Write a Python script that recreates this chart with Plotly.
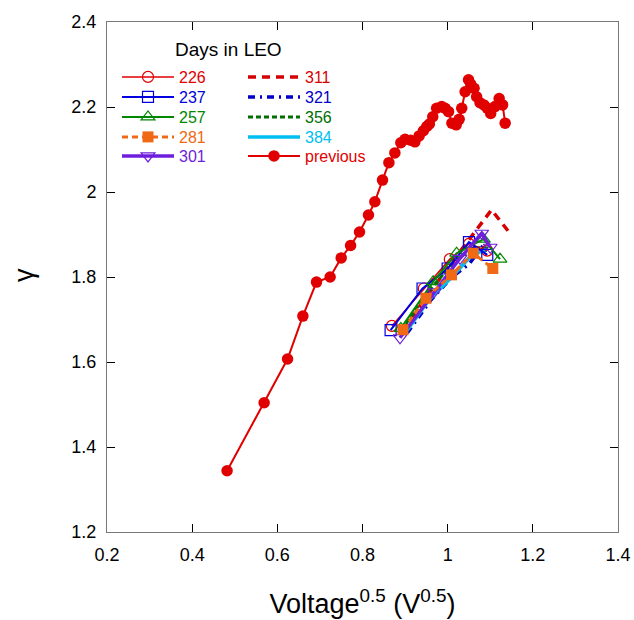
import plotly.graph_objects as go

# ---- data ----
prev_x = [0.482, 0.569, 0.624, 0.660, 0.692, 0.724, 0.750, 0.772, 0.793, 0.814, 0.829,
          0.847, 0.862, 0.876, 0.890, 0.900, 0.913, 0.923, 0.933, 0.943, 0.951, 0.957,
          0.965, 0.974, 0.986, 0.994, 1.002, 1.010, 1.020, 1.027, 1.033, 1.041, 1.049,
          1.054, 1.062, 1.068, 1.076, 1.085, 1.093, 1.101, 1.111, 1.121, 1.129, 1.135]
prev_y = [1.344, 1.504, 1.607, 1.708, 1.788, 1.800, 1.845, 1.874, 1.906, 1.946, 1.977,
          2.028, 2.069, 2.092, 2.116, 2.124, 2.122, 2.118, 2.132, 2.144, 2.154, 2.160,
          2.177, 2.197, 2.201, 2.197, 2.189, 2.162, 2.158, 2.171, 2.197, 2.236, 2.264,
          2.254, 2.244, 2.224, 2.210, 2.205, 2.197, 2.185, 2.201, 2.220, 2.205, 2.162]

d226_x = [0.869, 0.944, 1.005, 1.050, 1.093]
d226_y = [1.685, 1.773, 1.842, 1.878, 1.862]
d237_x = [0.866, 0.941, 1.000, 1.050, 1.093]
d237_y = [1.675, 1.773, 1.820, 1.882, 1.852]
d257_x = [0.890, 0.966, 1.021, 1.084, 1.123]
d257_y = [1.679, 1.789, 1.856, 1.889, 1.842]
d281_x = [0.895, 0.949, 1.009, 1.060, 1.106]
d281_y = [1.676, 1.750, 1.805, 1.856, 1.820]
d301_x = [0.888, 0.968, 1.029, 1.080, 1.100]
d301_y = [1.657, 1.765, 1.844, 1.903, 1.870]
d311_x = [0.895, 0.955, 1.020, 1.076, 1.103, 1.143]
d311_y = [1.675, 1.760, 1.848, 1.922, 1.958, 1.907]
d321_x = [0.905, 0.960, 1.010, 1.050, 1.080, 1.100]
d321_y = [1.668, 1.745, 1.800, 1.830, 1.870, 1.855]
d356_x = [0.892, 0.950, 1.010, 1.060, 1.095]
d356_y = [1.675, 1.760, 1.830, 1.870, 1.868]
d384_x = [0.905, 0.955, 1.010, 1.055, 1.090]
d384_y = [1.675, 1.745, 1.800, 1.850, 1.865]

x_ticks = [0.2, 0.4, 0.6, 0.8, 1.0, 1.2, 1.4]
y_ticks = [1.2, 1.4, 1.6, 1.8, 2.0, 2.2, 2.4]

RED = "rgb(225,0,0)"
BLUE = "rgb(0,0,225)"
GREEN = "rgb(0,135,0)"
ORANGE = "rgb(240,105,20)"
PURPLE = "rgb(110,30,220)"
DRED = "rgb(215,0,0)"
DBLUE = "rgb(0,0,200)"
DGREEN = "rgb(0,110,0)"
CYAN = "rgb(0,190,240)"

def lab(t, c):
    return f'<span style="color:{c}">{t}</span>'

# legend slot: (column, row)
series = {
    "226": (d226_x, d226_y, RED, dict(width=1.5), dict(symbol="circle-open", size=11, line=dict(width=1.2)), (0, 0)),
    "237": (d237_x, d237_y, BLUE, dict(width=2), dict(symbol="square-open", size=11, line=dict(width=1.2)), (0, 1)),
    "257": (d257_x, d257_y, GREEN, dict(width=2), dict(symbol="triangle-up-open", size=12, line=dict(width=1.2)), (0, 2)),
    "281": (d281_x, d281_y, ORANGE, dict(width=3, dash="6px,4px"), dict(symbol="square", size=11), (0, 3)),
    "301": (d301_x, d301_y, PURPLE, dict(width=3.5), dict(symbol="triangle-down-open", size=12, line=dict(width=1.2)), (0, 4)),
    "311": (d311_x, d311_y, DRED, dict(width=3.5, dash="8px,6px"), None, (1, 0)),
    "321": (d321_x, d321_y, DBLUE, dict(width=3.5, dash="7px,5px,2px,5px"), None, (1, 1)),
    "356": (d356_x, d356_y, DGREEN, dict(width=3, dash="5px,3px"), None, (1, 2)),
    "384": (d384_x, d384_y, CYAN, dict(width=3.5), None, (1, 3)),
    "previous": (prev_x, prev_y, RED, dict(width=2), dict(symbol="circle", size=11.5), (1, 4)),
}
draw_order = ["311", "321", "356", "384", "226", "237", "257", "301", "281", "previous"]

row_px = [77, 97, 117, 137, 156]
col_px = [117, 243]

fig = go.Figure()
legend_layout = {}
for i, name in enumerate(draw_order):
    xs, ys, col, ln, mk, (c, r) = series[name]
    lg = "legend" if i == 0 else f"legend{i + 1}"
    ln = dict(ln, color=col)
    kw = dict(x=xs, y=ys, name=lab(name, col), line=ln, legend=lg)
    if mk is None:
        fig.add_trace(go.Scatter(mode="lines", **kw))
    else:
        fig.add_trace(go.Scatter(mode="lines+markers", marker=dict(mk, color=col), **kw))
    legend_layout[lg] = dict(x=(col_px[c] - 107) / 511, y=(532 - row_px[r]) / 510,
                             xanchor="left", yanchor="middle", bgcolor="rgba(0,0,0,0)",
                             font=dict(size=16), itemwidth=52)

axis_common = dict(showgrid=False, zeroline=False, showline=True, linecolor="rgb(120,120,120)",
                   linewidth=1, mirror="ticks", ticks="inside", ticklen=8, tickcolor="black",
                   tickwidth=1, automargin=False,
                   tickfont=dict(family="Arial, Liberation Sans", size=18, color="black"))

fig.update_layout(
    width=634, height=620,
    margin=dict(l=107, r=16, t=22, b=88, autoexpand=False),
    plot_bgcolor="white", paper_bgcolor="white",
    font=dict(family="Arial, Liberation Sans", color="black"),
    xaxis=dict(range=[0.2, 1.4], tickvals=x_ticks, ticktext=[f"{v:g}" for v in x_ticks],
               ticklabelstandoff=6,
               title=dict(text="Voltage<sup>0.5</sup> (V<sup>0.5</sup>)",
                          font=dict(size=27), standoff=30),
               **axis_common),
    yaxis=dict(range=[1.2, 2.4], tickvals=y_ticks, ticktext=[f"{v:g}" for v in y_ticks],
               ticklabelstandoff=6,
               **axis_common),
    showlegend=True,
    **legend_layout,
)

# y-axis title (gamma), rotated like the reference
fig.add_annotation(text="γ", xref="paper", yref="paper",
                   x=(24 - 107) / 511, y=(532 - 275) / 510, showarrow=False, textangle=-90,
                   font=dict(size=27, color="black"), xanchor="center", yanchor="middle")

fig.add_annotation(text="Days in LEO", xref="paper", yref="paper",
                   x=(228 - 107) / 511, y=(532 - 49) / 510, showarrow=False,
                   font=dict(size=19, color="black"), xanchor="center", yanchor="middle")

fig.write_html("out.html")
